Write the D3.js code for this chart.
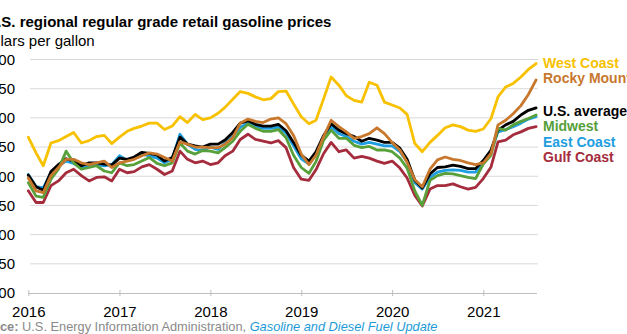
<!DOCTYPE html>
<html>
<head>
<meta charset="utf-8">
<script src="https://cdn.jsdelivr.net/npm/d3@7"></script>
<style>
  html, body { margin: 0; padding: 0; background: #fff; overflow: hidden; }
  svg { display: block; font-family: "Liberation Sans", Arial, sans-serif; }
  .grid line { stroke: #d9d9d9; stroke-width: 1; }
  .axis-x path, .axis-x line { stroke: #bfbfbf; }
  .tick-label { font-size: 15px; fill: #000; }
  .series { fill: none; stroke-width: 2.8; stroke-linejoin: round; stroke-linecap: round; }
  .legend-label { font-size: 14px; font-weight: bold; }
</style>
</head>
<body>
<div id="chart"></div>
<script>
// 月度讀值：2016-01 到 2021-08，每個序列 68 個點（美元/加侖）
const START = "2016-01-01";
const YEAR_TICKS = [2016, 2017, 2018, 2019, 2020, 2021];
const Y_TICKS = [0, 0.5, 1, 1.5, 2, 2.5, 3, 3.5, 4];

const westCoast = [2.67, 2.40, 2.18, 2.57, 2.61, 2.68, 2.75, 2.57, 2.61, 2.68, 2.70, 2.56,
  2.67, 2.77, 2.82, 2.86, 2.91, 2.91, 2.80, 2.86, 3.02, 2.92, 3.06, 2.97,
  3.00, 3.08, 3.18, 3.32, 3.45, 3.42, 3.36, 3.31, 3.33, 3.45, 3.46, 3.24,
  3.02, 2.90, 2.96, 3.33, 3.70, 3.56, 3.38, 3.30, 3.27, 3.61, 3.56, 3.27,
  3.22, 3.17, 3.06, 2.56, 2.42, 2.58, 2.70, 2.83, 2.88, 2.85, 2.79, 2.77,
  2.81, 2.99, 3.36, 3.53, 3.59, 3.70, 3.83, 3.93];

const rockyMountain = [1.97, 1.75, 1.72, 2.01, 2.15, 2.29, 2.29, 2.23, 2.20, 2.23, 2.26, 2.15,
  2.23, 2.26, 2.29, 2.35, 2.40, 2.38, 2.32, 2.26, 2.59, 2.55, 2.50, 2.50,
  2.49, 2.49, 2.55, 2.66, 2.91, 2.98, 2.94, 2.92, 2.98, 3.00, 2.90, 2.70,
  2.38, 2.20, 2.36, 2.68, 2.96, 2.85, 2.76, 2.65, 2.68, 2.73, 2.83, 2.73,
  2.58, 2.45, 2.24, 1.94, 1.82, 2.12, 2.28, 2.33, 2.29, 2.27, 2.23, 2.20,
  2.23, 2.39, 2.88, 2.96, 3.07, 3.21, 3.40, 3.65];

const usAverage = [2.02, 1.82, 1.76, 2.08, 2.20, 2.30, 2.26, 2.18, 2.23, 2.23, 2.21, 2.19,
  2.31, 2.29, 2.33, 2.41, 2.39, 2.36, 2.26, 2.32, 2.67, 2.55, 2.52, 2.50,
  2.55, 2.55, 2.62, 2.75, 2.91, 2.95, 2.89, 2.86, 2.86, 2.89, 2.78, 2.58,
  2.36, 2.26, 2.42, 2.70, 2.90, 2.79, 2.73, 2.68, 2.60, 2.65, 2.62, 2.58,
  2.58, 2.48, 2.29, 1.93, 1.80, 2.04, 2.15, 2.16, 2.19, 2.17, 2.13, 2.13,
  2.27, 2.45, 2.79, 2.88, 2.94, 3.05, 3.13, 3.17];

const midwest = [1.89, 1.66, 1.64, 1.95, 2.12, 2.43, 2.23, 2.12, 2.15, 2.18, 2.09, 2.06,
  2.23, 2.18, 2.20, 2.26, 2.32, 2.22, 2.18, 2.23, 2.57, 2.43, 2.38, 2.44,
  2.43, 2.40, 2.49, 2.60, 2.77, 2.89, 2.82, 2.77, 2.77, 2.80, 2.66, 2.36,
  2.15, 2.05, 2.25, 2.62, 2.79, 2.65, 2.65, 2.53, 2.49, 2.51, 2.45, 2.45,
  2.42, 2.31, 2.14, 1.75, 1.50, 1.93, 2.01, 2.05, 2.04, 2.01, 1.98, 1.96,
  2.21, 2.36, 2.82, 2.79, 2.88, 2.94, 2.99, 3.05];

const eastCoast = [2.03, 1.82, 1.80, 2.06, 2.18, 2.26, 2.22, 2.15, 2.19, 2.20, 2.18, 2.20,
  2.35, 2.27, 2.31, 2.38, 2.35, 2.31, 2.23, 2.29, 2.72, 2.55, 2.46, 2.44,
  2.50, 2.46, 2.57, 2.68, 2.84, 2.91, 2.86, 2.82, 2.82, 2.84, 2.74, 2.52,
  2.30, 2.21, 2.39, 2.68, 2.85, 2.73, 2.68, 2.60, 2.55, 2.58, 2.55, 2.52,
  2.52, 2.42, 2.25, 1.89, 1.78, 1.98, 2.07, 2.10, 2.11, 2.10, 2.07, 2.07,
  2.24, 2.42, 2.76, 2.80, 2.85, 2.91, 2.98, 3.02];

const gulfCoast = [1.75, 1.55, 1.55, 1.84, 1.92, 2.06, 2.12, 2.01, 1.92, 1.98, 1.99, 1.92,
  2.12, 2.06, 2.08, 2.16, 2.20, 2.12, 2.03, 2.09, 2.43, 2.29, 2.23, 2.26,
  2.20, 2.23, 2.35, 2.43, 2.63, 2.72, 2.63, 2.60, 2.57, 2.61, 2.49, 2.15,
  1.95, 1.93, 2.11, 2.39, 2.58, 2.42, 2.45, 2.31, 2.34, 2.31, 2.26, 2.22,
  2.26, 2.14, 1.97, 1.67, 1.49, 1.78, 1.84, 1.84, 1.87, 1.82, 1.78, 1.81,
  1.96, 2.16, 2.59, 2.62, 2.71, 2.76, 2.82, 2.85];

// 繪製順序（後畫的在上層）與圖例位置
const SERIES = [
  { name: "West Coast", values: westCoast, color: "#f7c100", labelY: 63 },
  { name: "Gulf Coast", values: gulfCoast, color: "#a52c3c", labelY: 157 },
  { name: "East Coast", values: eastCoast, color: "#1e9ee0", labelY: 142 },
  { name: "U.S. average", values: usAverage, color: "#000000", labelY: 111 },
  { name: "Midwest", values: midwest, color: "#57a03a", labelY: 126 },
  { name: "Rocky Mountain", values: rockyMountain, color: "#c8782c", labelY: 78 },
];

const W = 627, H = 334;
const X0 = 28.3, X2021 = 483.3;
const Y_ZERO = 293, Y_TOP = 59.5;
const GRID_RIGHT = 538;

const svg = d3.select("#chart").append("svg")
  .attr("width", W).attr("height", H)
  .attr("viewBox", `0 0 ${W} ${H}`);

const parse = d3.utcParse("%Y-%m-%d");
const start = parse(START);
const dates = d3.range(westCoast.length).map((i) => d3.utcMonth.offset(start, i));

const x = d3.scaleUtc()
  .domain([start, new Date(Date.UTC(2021, 0, 1))])
  .range([X0, X2021]);
const y = d3.scaleLinear().domain([0, 4]).range([Y_ZERO, Y_TOP]);

// 把文字往左推，讓開頭被裁掉（和原圖一樣）
function textWidth(str, font) {
  const t = svg.append("text").style("font", font).text(str);
  const w = t.node().getComputedTextLength();
  t.remove();
  return w;
}

const titleFont = "bold 15px 'Liberation Sans', Arial, sans-serif";
svg.append("text")
  .attr("x", 15.5 - textWidth("U.S. ", titleFont))
  .attr("y", 27)
  .style("font", titleFont)
  .text("U.S. regional regular grade retail gasoline prices");

const subFont = "15px 'Liberation Sans', Arial, sans-serif";
svg.append("text")
  .attr("x", 0.5 - textWidth("dol", subFont))
  .attr("y", 46)
  .style("font", subFont)
  .text("dollars per gallon");

// 格線
svg.append("g").attr("class", "grid")
  .selectAll("line")
  .data(Y_TICKS.filter((d) => d > 0))
  .join("line")
  .attr("x1", 30).attr("x2", GRID_RIGHT)
  .attr("y1", (d) => y(d)).attr("y2", (d) => y(d));

// Y 軸刻度文字
svg.append("g")
  .selectAll("text")
  .data(Y_TICKS)
  .join("text")
  .attr("class", "tick-label")
  .attr("x", 15)
  .attr("y", (d) => y(d))
  .attr("dy", "0.36em")
  .attr("text-anchor", "end")
  .text(d3.format("$.2f"));

// X 軸
const xAxis = svg.append("g")
  .attr("class", "axis-x")
  .attr("transform", `translate(0,${Y_ZERO})`)
  .call(
    d3.axisBottom(x)
      .tickValues(YEAR_TICKS.map((yr) => new Date(Date.UTC(yr, 0, 1))))
      .tickFormat(d3.utcFormat("%Y"))
      .tickSize(4)
      .tickSizeOuter(0)
  );
xAxis.select(".domain")
  .attr("d", `M${X0},0.5H${GRID_RIGHT - 1}`);
xAxis.selectAll(".tick line").attr("y1", -3).attr("y2", 3);
xAxis.selectAll(".tick text")
  .attr("y", 18.5)
  .attr("dy", "0.36em")
  .style("font", "15px 'Liberation Sans', Arial, sans-serif")
  .attr("fill", "#000");

// 各區域線條
const line = d3.line()
  .x((d, i) => x(dates[i]))
  .y((d) => y(d));

svg.append("g")
  .selectAll("path")
  .data(SERIES)
  .join("path")
  .attr("class", "series")
  .attr("stroke", (d) => d.color)
  .attr("d", (d) => line(d.values));

// 右側直接標籤
svg.append("g")
  .selectAll("text")
  .data(SERIES)
  .join("text")
  .attr("class", "legend-label")
  .attr("x", 543)
  .attr("y", (d) => d.labelY)
  .attr("dy", "0.36em")
  .attr("fill", (d) => d.color)
  .text((d) => d.name);

// 資料來源
const srcBold = "bold 12.8px 'Liberation Sans', Arial, sans-serif";
const src = svg.append("text")
  .attr("x", 0 - textWidth("Sour", srcBold))
  .attr("y", 330.5)
  .style("font-size", "12.8px")
  .attr("fill", "#8a8a8a");
src.append("tspan").style("font-weight", "bold").text("Source: ");
src.append("tspan").text("U.S. Energy Information Administration, ");
src.append("tspan")
  .attr("fill", "#1e9ad8")
  .style("font-style", "italic")
  .text("Gasoline and Diesel Fuel Update");
</script>
</body>
</html>
